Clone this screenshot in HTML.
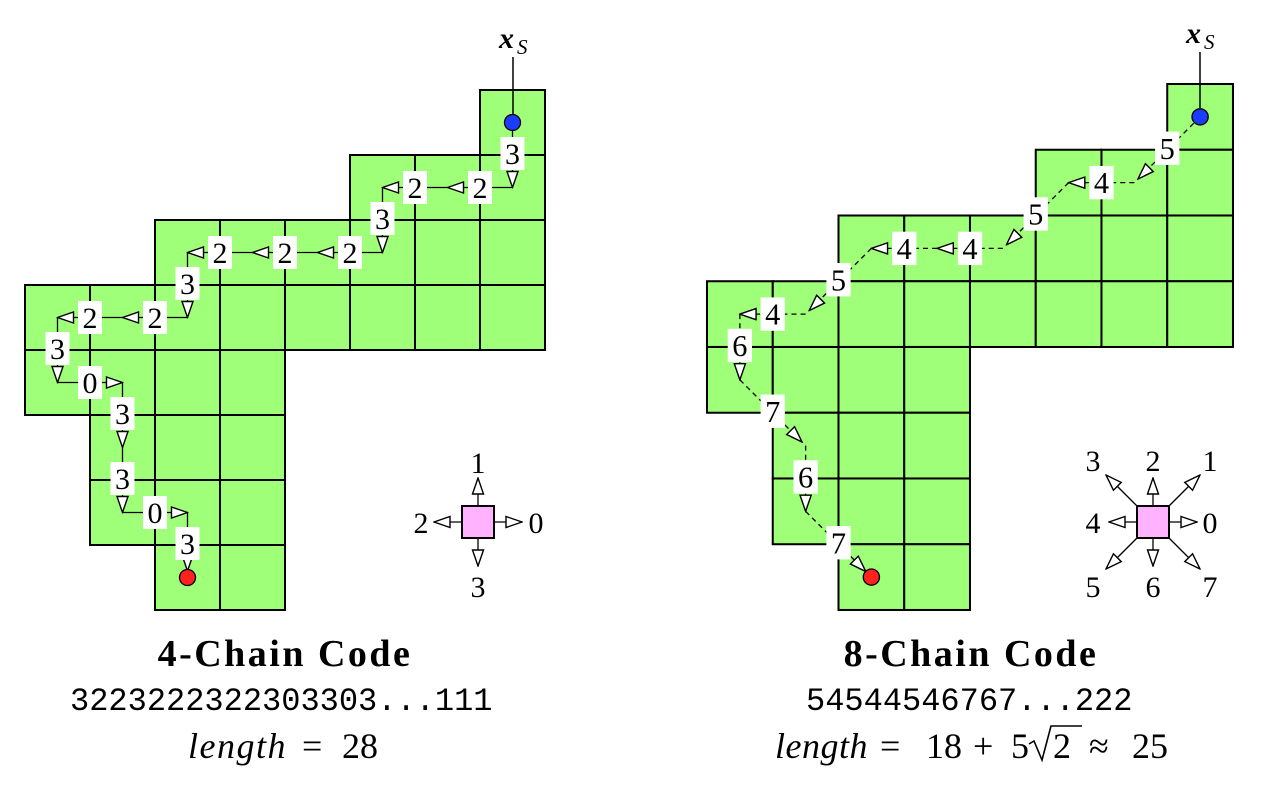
<!DOCTYPE html>
<html><head><meta charset="utf-8"><style>
html,body{margin:0;padding:0;background:#fff;}
svg{display:block;}
</style></head><body>
<svg width="1261" height="788" viewBox="0 0 1261 788" xmlns="http://www.w3.org/2000/svg" font-family="'Liberation Serif', serif">
<defs>
<marker id="ah" viewBox="0 0 18 14" refX="17" refY="7" markerWidth="18" markerHeight="14" markerUnits="userSpaceOnUse" orient="auto">
<path d="M1,1.5 L17,7 L1,12.5 z" fill="#fff" stroke="#000" stroke-width="1.4"/>
</marker>
<rect id="c" width="65" height="65" fill="#a0ff78" stroke="#000" stroke-width="2"/>
<g id="grid">
<use href="#c" x="455" y="0"/>
<use href="#c" x="325" y="65"/><use href="#c" x="390" y="65"/><use href="#c" x="455" y="65"/>
<use href="#c" x="130" y="130"/><use href="#c" x="195" y="130"/><use href="#c" x="260" y="130"/><use href="#c" x="325" y="130"/><use href="#c" x="390" y="130"/><use href="#c" x="455" y="130"/>
<use href="#c" x="0" y="195"/><use href="#c" x="65" y="195"/><use href="#c" x="130" y="195"/><use href="#c" x="195" y="195"/><use href="#c" x="260" y="195"/><use href="#c" x="325" y="195"/><use href="#c" x="390" y="195"/><use href="#c" x="455" y="195"/>
<use href="#c" x="0" y="260"/><use href="#c" x="65" y="260"/><use href="#c" x="130" y="260"/><use href="#c" x="195" y="260"/>
<use href="#c" x="65" y="325"/><use href="#c" x="130" y="325"/><use href="#c" x="195" y="325"/>
<use href="#c" x="65" y="390"/><use href="#c" x="130" y="390"/><use href="#c" x="195" y="390"/>
<use href="#c" x="130" y="455"/><use href="#c" x="195" y="455"/>
</g>
</defs>

<!-- LEFT -->
<g transform="translate(25,90)">
<use href="#grid"/>
<g stroke="#000" stroke-width="1.3" fill="none" marker-end="url(#ah)">
<line x1="487.5" y1="32.5" x2="487.5" y2="97.5"/>
<line x1="487.5" y1="97.5" x2="422.5" y2="97.5"/>
<line x1="422.5" y1="97.5" x2="357.5" y2="97.5"/>
<line x1="357.5" y1="97.5" x2="357.5" y2="162.5"/>
<line x1="357.5" y1="162.5" x2="292.5" y2="162.5"/>
<line x1="292.5" y1="162.5" x2="227.5" y2="162.5"/>
<line x1="227.5" y1="162.5" x2="162.5" y2="162.5"/>
<line x1="162.5" y1="162.5" x2="162.5" y2="227.5"/>
<line x1="162.5" y1="227.5" x2="97.5" y2="227.5"/>
<line x1="97.5" y1="227.5" x2="32.5" y2="227.5"/>
<line x1="32.5" y1="227.5" x2="32.5" y2="292.5"/>
<line x1="32.5" y1="292.5" x2="97.5" y2="292.5"/>
<line x1="97.5" y1="292.5" x2="97.5" y2="357.5"/>
<line x1="97.5" y1="357.5" x2="97.5" y2="422.5"/>
<line x1="97.5" y1="422.5" x2="162.5" y2="422.5"/>
<line x1="162.5" y1="422.5" x2="162.5" y2="481"/>
</g>
<circle cx="487.5" cy="32.5" r="8" fill="#1a3cff" stroke="#000" stroke-width="1.3"/>
<circle cx="162.5" cy="487.5" r="8" fill="#ff2020" stroke="#000" stroke-width="1.3"/>
<g fill="#fff">
<rect x="475.5" y="47" width="24" height="33"/><rect x="443" y="81" width="24" height="33"/><rect x="378" y="81" width="24" height="33"/>
<rect x="345.5" y="112" width="24" height="33"/><rect x="313" y="146" width="24" height="33"/><rect x="248" y="146" width="24" height="33"/>
<rect x="183" y="146" width="24" height="33"/><rect x="150.5" y="177" width="24" height="33"/><rect x="118" y="211" width="24" height="33"/>
<rect x="53" y="211" width="24" height="33"/><rect x="20.5" y="242" width="24" height="33"/><rect x="53" y="276" width="24" height="33"/>
<rect x="85.5" y="307" width="24" height="33"/><rect x="85.5" y="372" width="24" height="33"/><rect x="118" y="406" width="24" height="33"/>
<rect x="150.5" y="437" width="24" height="33"/>
</g>
<g font-size="30" text-anchor="middle" font-family="'Liberation Serif', serif">
<text x="487.5" y="74">3</text><text x="455" y="108">2</text><text x="390" y="108">2</text>
<text x="357.5" y="139">3</text><text x="325" y="173">2</text><text x="260" y="173">2</text>
<text x="195" y="173">2</text><text x="162.5" y="204">3</text><text x="130" y="238">2</text>
<text x="65" y="238">2</text><text x="32.5" y="269">3</text><text x="65" y="303">0</text>
<text x="97.5" y="334">3</text><text x="97.5" y="399">3</text><text x="130" y="433">0</text>
<text x="162.5" y="464">3</text>
</g>
</g>
<line x1="513" y1="57" x2="513" y2="114" stroke="#000" stroke-width="1.5"/>
<text x="499" y="48" font-size="30" font-weight="bold" font-style="italic" font-family="'Liberation Serif', serif">x</text>
<text x="517" y="54" font-size="21" font-style="italic" font-family="'Liberation Serif', serif">S</text>

<!-- left legend -->
<rect x="462" y="506" width="32" height="32" fill="#ffb3ff" stroke="#000" stroke-width="2"/>
<g stroke="#000" stroke-width="1.3" marker-end="url(#ah)">
<line x1="494" y1="522" x2="522" y2="522"/>
<line x1="462" y1="522" x2="434" y2="522"/>
<line x1="478" y1="506" x2="478" y2="478"/>
<line x1="478" y1="538" x2="478" y2="566"/>
</g>
<g font-size="30" text-anchor="middle" font-family="'Liberation Serif', serif">
<text x="536" y="533">0</text><text x="421" y="533">2</text><text x="478" y="473">1</text><text x="478" y="597">3</text>
</g>

<!-- RIGHT -->
<g transform="translate(707,84) scale(1.0115)">
<use href="#grid"/>
<g stroke="#000" stroke-width="1.3" fill="none" stroke-dasharray="5,4" marker-end="url(#ah)">
<path d="M487.5,32.5 L426,94"/>
<path d="M422.5,97.5 L357.5,97.5"/>
<path d="M357.5,97.5 L296,159"/>
<path d="M292.5,162.5 L227.5,162.5"/>
<path d="M227.5,162.5 L162.5,162.5"/>
<path d="M162.5,162.5 L101,224"/>
<path d="M97.5,227.5 L32.5,227.5"/>
<path d="M32.5,227.5 L32.5,292.5"/>
<path d="M32.5,292.5 L94,354"/>
<path d="M97.5,357.5 L97.5,422.5"/>
<path d="M97.5,422.5 L157,482"/>
</g>
<circle cx="487.5" cy="32.5" r="8" fill="#1a3cff" stroke="#000" stroke-width="1.3"/>
<circle cx="162.5" cy="487.5" r="8" fill="#ff2020" stroke="#000" stroke-width="1.3"/>
<g fill="#fff">
<rect x="443" y="47" width="24" height="33"/><rect x="378" y="81" width="24" height="33"/><rect x="313" y="112" width="24" height="33"/>
<rect x="248" y="146" width="24" height="33"/><rect x="183" y="146" width="24" height="33"/><rect x="118" y="177" width="24" height="33"/>
<rect x="53" y="211" width="24" height="33"/><rect x="20.5" y="242" width="24" height="33"/><rect x="53" y="307" width="24" height="33"/>
<rect x="85.5" y="372" width="24" height="33"/><rect x="118" y="437" width="24" height="33"/>
</g>
<g font-size="30" text-anchor="middle" font-family="'Liberation Serif', serif">
<text x="455" y="74">5</text><text x="390" y="108">4</text><text x="325" y="139">5</text>
<text x="260" y="173">4</text><text x="195" y="173">4</text><text x="130" y="204">5</text>
<text x="65" y="238">4</text><text x="32.5" y="269">6</text><text x="65" y="334">7</text>
<text x="97.5" y="399">6</text><text x="130" y="464">7</text>
</g>
</g>
<line x1="1200" y1="52" x2="1200" y2="108" stroke="#000" stroke-width="1.5"/>
<text x="1186" y="43" font-size="30" font-weight="bold" font-style="italic" font-family="'Liberation Serif', serif">x</text>
<text x="1204" y="49" font-size="21" font-style="italic" font-family="'Liberation Serif', serif">S</text>

<!-- right legend -->
<rect x="1137" y="506" width="32" height="32" fill="#ffb3ff" stroke="#000" stroke-width="2"/>
<g stroke="#000" stroke-width="1.3" marker-end="url(#ah)">
<line x1="1169" y1="522" x2="1197" y2="522"/>
<line x1="1137" y1="522" x2="1109" y2="522"/>
<line x1="1153" y1="506" x2="1153" y2="478"/>
<line x1="1153" y1="538" x2="1153" y2="566"/>
<line x1="1169" y1="506" x2="1200" y2="475"/>
<line x1="1137" y1="506" x2="1106" y2="475"/>
<line x1="1137" y1="538" x2="1106" y2="569"/>
<line x1="1169" y1="538" x2="1200" y2="569"/>
</g>
<g font-size="30" text-anchor="middle" font-family="'Liberation Serif', serif">
<text x="1210" y="533">0</text><text x="1093" y="533">4</text>
<text x="1153" y="471">2</text><text x="1093" y="471">3</text><text x="1210" y="471">1</text>
<text x="1093" y="597">5</text><text x="1153" y="597">6</text><text x="1210" y="597">7</text>
</g>

<!-- captions -->
<g font-family="'Liberation Serif', serif">
<text x="285" y="666" font-size="38" font-weight="bold" text-anchor="middle" letter-spacing="2.5">4-Chain Code</text>
<text x="971" y="666" font-size="38" font-weight="bold" text-anchor="middle" letter-spacing="2.5">8-Chain Code</text>

<text x="188" y="758" font-size="36" font-style="italic" letter-spacing="1.5">length</text>
<text x="302" y="758" font-size="36">=</text>
<text x="342" y="758" font-size="36">28</text>

<text x="775" y="758" font-size="36" font-style="italic" letter-spacing="0.5">length</text>
<text x="880" y="758" font-size="36">=</text>
<text x="926" y="758" font-size="36">18</text>
<text x="973" y="758" font-size="36">+</text>
<text x="1011" y="758" font-size="36">5</text>
<path d="M1029,744 L1034,741 L1042,760 L1051,726 L1082,726" fill="none" stroke="#000" stroke-width="1.6"/>
<text x="1053" y="758" font-size="36">2</text>
<text x="1089" y="758" font-size="36">≈</text>
<text x="1132" y="758" font-size="36">25</text>
</g>
<g font-family="'Liberation Mono', monospace" font-size="32">
<text x="70" y="710">3223222322303303...111</text>
<text x="806" y="710">54544546767...222</text>
</g>
</svg>
</body></html>
